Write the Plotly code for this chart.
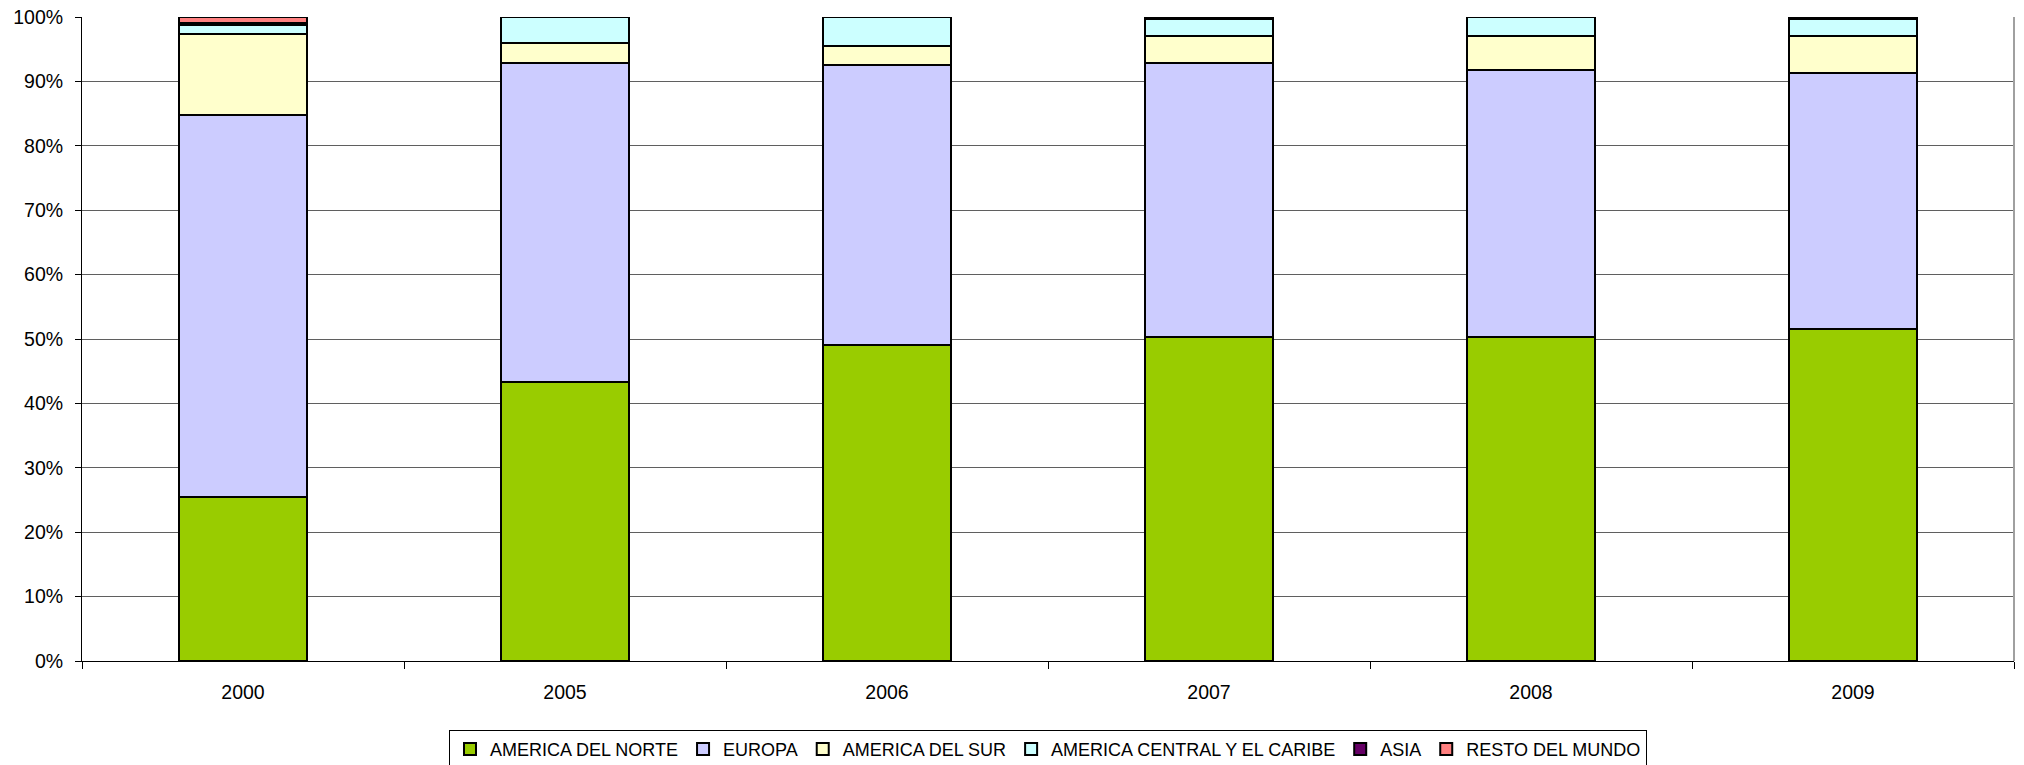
import plotly.graph_objects as go

years = ["2000", "2005", "2006", "2007", "2008", "2009"]
america_norte = [25.5, 43.3, 49.0, 50.3, 50.3, 51.6]
europa = [59.3, 49.6, 43.55, 42.6, 41.5, 39.65]
america_sur = [12.6, 3.1, 2.95, 4.2, 5.3, 5.85]
america_central = [1.4, 4.0, 4.5, 2.6, 2.9, 2.6]
asia = [0.3, 0.0, 0.0, 0.3, 0.0, 0.3]
resto = [0.9, 0.0, 0.0, 0.0, 0.0, 0.0]

series = [
    ("AMERICA DEL NORTE", america_norte, "#99CC00"),
    ("EUROPA", europa, "#CCCCFF"),
    ("AMERICA DEL SUR", america_sur, "#FFFFCC"),
    ("AMERICA CENTRAL Y EL CARIBE", america_central, "#CCFFFF"),
    ("ASIA", asia, "#660066"),
    ("RESTO DEL MUNDO", resto, "#FF8080"),
]

fig = go.Figure()
for name, vals, color in series:
    fig.add_trace(go.Bar(
        x=years, y=vals, name=name,
        marker=dict(color=color, line=dict(color="black", width=2)),
    ))

font = dict(family="Liberation Sans, Arial, sans-serif", size=19.5, color="black")
legend_font = dict(family="Liberation Sans, Arial, sans-serif", size=18, color="black")
fig.update_layout(
    barmode="stack",
    bargap=0.6,
    width=2024, height=765,
    margin=dict(l=82, r=10, t=17, b=104, autoexpand=False),
    paper_bgcolor="white", plot_bgcolor="white",
    font=font,
    showlegend=True,
    legend=dict(
        orientation="h", x=0.5, xanchor="center", y=-0.107, yanchor="top",
        bordercolor="black", borderwidth=1, bgcolor="white",
        font=legend_font, traceorder="normal", itemwidth=30,
        tracegroupgap=0,
    ),
    xaxis=dict(
        type="category", showgrid=False, tickson="boundaries",
        ticks="outside", ticklen=7, tickcolor="black",
        showline=True, linecolor="black", linewidth=1,
        tickfont=font, ticklabelstandoff=14,
    ),
    yaxis=dict(
        range=[0, 100], dtick=10, ticksuffix="%",
        showgrid=True, gridcolor="#5f5f5f", gridwidth=1,
        ticks="outside", ticklen=6, tickcolor="black",
        showline=True, linecolor="black", linewidth=1,
        tickfont=font, zeroline=False, ticklabelstandoff=8,
    ),
    shapes=[dict(
        type="line", xref="paper", yref="paper",
        x0=1, x1=1, y0=0, y1=1,
        line=dict(color="#a0a0a0", width=2),
    )],
)

fig.write_html(
    "out.html",
    config={"displayModeBar": False},
    post_script="document.body.style.margin='0';document.body.style.overflow='hidden';",
)
